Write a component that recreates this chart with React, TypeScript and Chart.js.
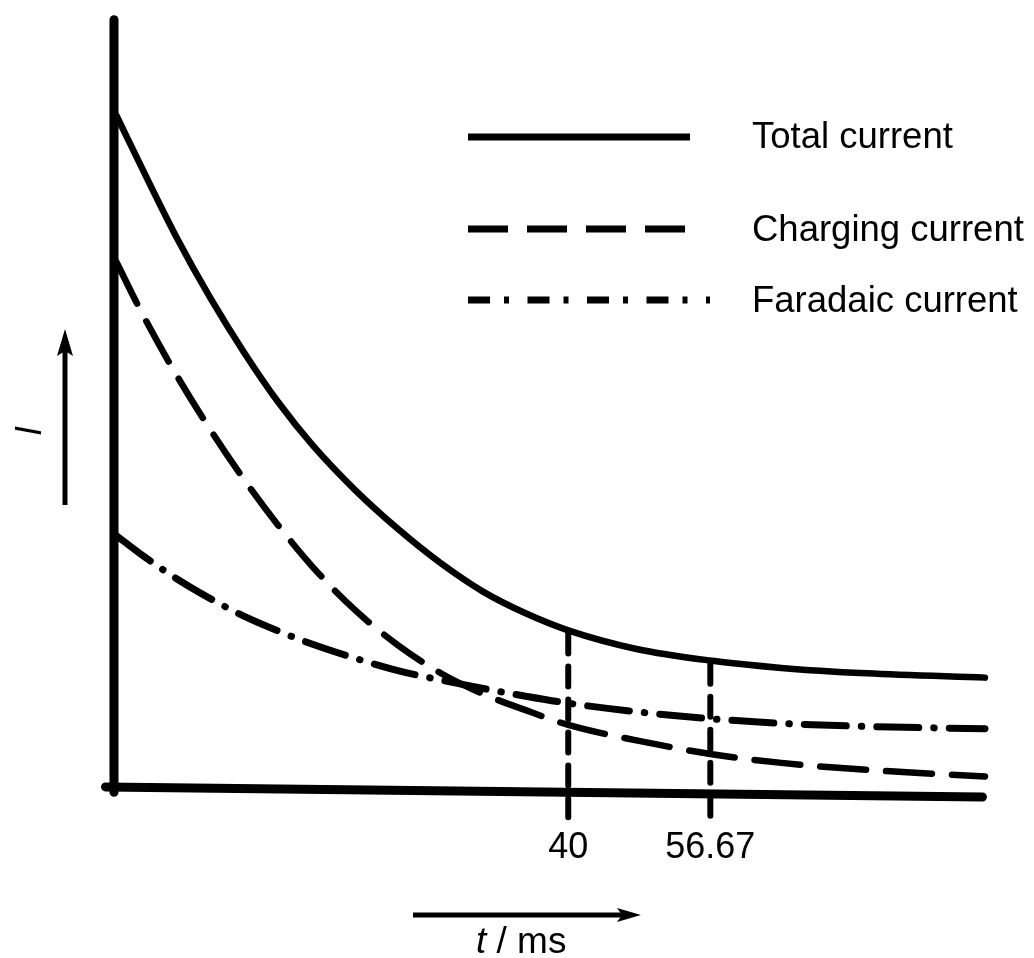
import React, { useEffect, useRef } from "react";
import { Chart, registerables } from "chart.js";

Chart.register(...registerables);

// ---- data (time in ms, current in arbitrary units) ----
const timesMs = [-13, -10, -6, -2, 2, 6, 10, 15, 20, 25, 30, 35, 40, 48, 56.67, 65, 75, 88.9];
const totalCurrent = [87.0, 80.2, 71.4, 63.5, 56.4, 50.0, 44.5, 38.7, 33.7, 29.3, 25.6, 22.8, 20.6, 18.2, 16.7, 15.75, 15.05, 14.5];
const chargingCurrent = [68.1, 61.5, 53.6, 46.5, 40.0, 34.1, 28.8, 23.2, 18.7, 15.1, 12.4, 10.3, 8.4, 6.4, 4.65, 3.5, 2.6, 1.75];
const faradaicCurrent = [32.8, 30.3, 27.3, 24.7, 22.4, 20.5, 18.8, 17.0, 15.4, 14.2, 13.1, 12.1, 11.2, 10.1, 9.2, 8.6, 8.2, 7.9];
const seriesNames = ["Total current", "Charging current", "Faradaic current"];

const markedTimes = [40, 56.67];
const markedTickLabels = ["40", "56.67"];
const markedGuideBottom = [-3.5, -4.1];

const X_MIN = -13.3;
const X_MAX = 88.9;
const Y_MIN = 0;
const Y_MAX = 100;

const yAxisStart = { x: -13.3, y: -0.3 };
const yAxisEnd = { x: -13.3, y: 99.4 };
const xAxisStart = { x: -14.3, y: 0.4 };
const xAxisEnd = { x: 88.6, y: -0.9 };

const FONT = '"Liberation Sans", Arial, Helvetica, sans-serif';

function pts(values: number[]) {
  return timesMs.map((t, i) => ({ x: t, y: values[i] }));
}

const decorPlugin = {
  id: "decor",
  afterDraw(chart: any) {
    const ctx = chart.ctx as CanvasRenderingContext2D;
    const xs = chart.scales.x;
    ctx.save();
    ctx.fillStyle = "#000";
    ctx.strokeStyle = "#000";

    // tick labels under the marked times
    ctx.font = `36px ${FONT}`;
    ctx.textAlign = "center";
    ctx.textBaseline = "alphabetic";
    markedTimes.forEach((t, i) => {
      ctx.fillText(markedTickLabels[i], xs.getPixelForValue(t), 858);
    });

    // legend
    const lx0 = 468;
    ctx.lineCap = "butt";
    ctx.lineWidth = 7;
    ctx.setLineDash([]);
    ctx.beginPath();
    ctx.moveTo(lx0, 137);
    ctx.lineTo(690, 137);
    ctx.stroke();
    ctx.setLineDash([40, 19]);
    ctx.beginPath();
    ctx.moveTo(lx0, 229);
    ctx.lineTo(686, 229);
    ctx.stroke();
    ctx.setLineDash([22, 14, 5, 18.5]);
    ctx.beginPath();
    ctx.moveTo(lx0, 300);
    ctx.lineTo(710, 300);
    ctx.stroke();
    ctx.setLineDash([]);

    ctx.textAlign = "left";
    ctx.font = `36.5px ${FONT}`;
    ctx.fillText(seriesNames[0], 752, 148);
    ctx.fillText(seriesNames[1], 752, 241);
    ctx.fillText(seriesNames[2], 752, 312);

    // y-axis title with arrow
    ctx.lineWidth = 5;
    ctx.beginPath();
    ctx.moveTo(65, 505);
    ctx.lineTo(65, 350);
    ctx.stroke();
    ctx.beginPath();
    ctx.moveTo(65, 329);
    ctx.lineTo(57, 356);
    ctx.lineTo(65, 351);
    ctx.lineTo(73, 356);
    ctx.closePath();
    ctx.fill();

    ctx.save();
    ctx.translate(41, 431);
    ctx.rotate(-Math.PI / 2);
    ctx.font = `italic 36px ${FONT}`;
    ctx.textAlign = "center";
    ctx.fillText("I", 0, 0);
    ctx.restore();

    // x-axis title with arrow
    ctx.lineWidth = 5;
    ctx.beginPath();
    ctx.moveTo(413, 915);
    ctx.lineTo(625, 915);
    ctx.stroke();
    ctx.beginPath();
    ctx.moveTo(641, 915);
    ctx.lineTo(617, 908);
    ctx.lineTo(622, 915);
    ctx.lineTo(617, 922);
    ctx.closePath();
    ctx.fill();

    ctx.textAlign = "left";
    ctx.font = `italic 37px ${FONT}`;
    const tx = 476;
    ctx.fillText("t", tx, 953);
    const tw = ctx.measureText("t").width;
    ctx.font = `37px ${FONT}`;
    ctx.fillText(" / ms", tx + tw, 953);

    ctx.restore();
  },
};

export default function App() {
  const ref = useRef<HTMLCanvasElement | null>(null);

  useEffect(() => {
    document.body.style.margin = "0";
    const canvas = ref.current;
    if (!canvas) return;

    const common = {
      borderColor: "#000",
      backgroundColor: "#000",
      pointRadius: 0,
      pointHoverRadius: 0,
      fill: false,
      clip: false as any,
      borderCapStyle: "round" as const,
      borderJoinStyle: "round" as const,
    };

    const guideSets = markedTimes.map((t, i) => ({
      ...common,
      label: `guide ${markedTickLabels[i]}`,
      data: [
        { x: t, y: totalCurrent[timesMs.indexOf(t)] - 0.4 },
        { x: t, y: markedGuideBottom[i] },
      ],
      borderWidth: 6,
      borderDash: [20, 13],
      tension: 0,
    }));

    const chart = new Chart(canvas, {
      type: "line",
      data: {
        datasets: [
          {
            ...common,
            label: "y axis",
            data: [yAxisStart, yAxisEnd],
            borderWidth: 9,
            tension: 0,
          },
          {
            ...common,
            label: "x axis",
            data: [xAxisStart, xAxisEnd],
            borderWidth: 9,
            tension: 0,
          },
          {
            ...common,
            label: seriesNames[0],
            data: pts(totalCurrent),
            borderWidth: 6.5,
            cubicInterpolationMode: "monotone",
          },
          {
            ...common,
            label: seriesNames[1],
            data: pts(chargingCurrent),
            borderWidth: 6.5,
            borderDash: [46, 20],
            cubicInterpolationMode: "monotone",
          },
          {
            ...common,
            label: seriesNames[2],
            data: pts(faradaicCurrent),
            borderWidth: 7,
            borderDash: [42, 15, 0.5, 15],
            cubicInterpolationMode: "monotone",
          },
          ...guideSets,
        ],
      },
      options: {
        animation: false,
        responsive: false,
        maintainAspectRatio: false,
        events: [],
        layout: { padding: { left: 114, right: 49, top: 15, bottom: 168 } },
        plugins: {
          legend: { display: false },
          tooltip: { enabled: false },
          title: { display: false },
        },
        scales: {
          x: { type: "linear", min: X_MIN, max: X_MAX, display: false },
          y: { type: "linear", min: Y_MIN, max: Y_MAX, display: false },
        },
      },
      plugins: [decorPlugin],
    });

    return () => chart.destroy();
  }, []);

  return (
    <div style={{ position: "absolute", left: 0, top: 0, width: 1034, height: 958, background: "#fff" }}>
      <canvas ref={ref} width={1034} height={958} style={{ display: "block", width: 1034, height: 958 }} />
    </div>
  );
}
